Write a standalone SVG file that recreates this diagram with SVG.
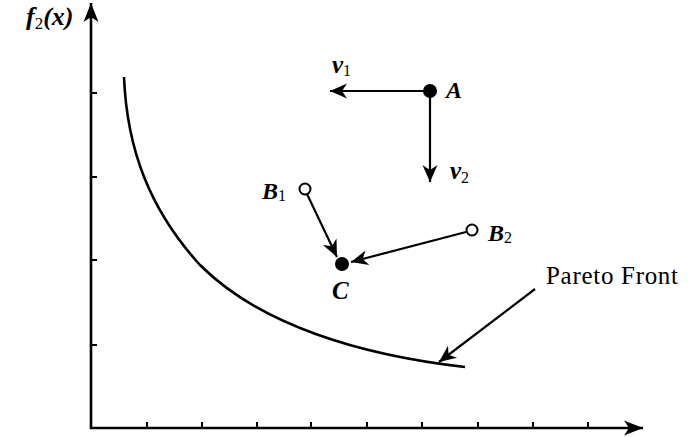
<svg xmlns="http://www.w3.org/2000/svg" width="697" height="437" viewBox="0 0 697 437">
<style>
.ax{stroke:#000;stroke-width:2.6;fill:none}
.tk{stroke:#000;stroke-width:2;fill:none}
.ln{stroke:#000;stroke-width:2.2;fill:none}
.cv{stroke:#000;stroke-width:2.6;fill:none}
.lb{font-family:"Liberation Serif","Times New Roman",serif;font-weight:bold;font-style:italic;fill:#000}
.sb{font-family:"Liberation Serif","Times New Roman",serif;font-style:normal;font-weight:normal;fill:#000}
.pf{font-family:"Liberation Serif","Times New Roman",serif;font-size:25px;fill:#000}
</style>
<defs>
<marker id="bigArrow" markerUnits="userSpaceOnUse" viewBox="-20 -9 22 18" refX="0" refY="0" markerWidth="22" markerHeight="18" orient="auto">
<path d="M0,0 L-19,-7.5 L-14,0 L-19,7.5 Z" fill="#000"/>
</marker>
<marker id="arr" markerUnits="userSpaceOnUse" viewBox="-18 -9 20 18" refX="0" refY="0" markerWidth="20" markerHeight="18" orient="auto">
<path d="M0,0 L-17,-7.5 L-12,0 L-17,7.5 Z" fill="#000"/>
</marker>
</defs>
<g id="axes">
<line class="ax" x1="91" y1="429" x2="91" y2="3" marker-end="url(#bigArrow)"/>
<line class="ax" x1="90" y1="428" x2="643" y2="428" marker-end="url(#bigArrow)"/>
<g class="tk">
<line x1="91" y1="93" x2="97" y2="93"/>
<line x1="91" y1="177" x2="97" y2="177"/>
<line x1="91" y1="260" x2="97" y2="260"/>
<line x1="91" y1="345" x2="97" y2="345"/>
<line x1="147" y1="428" x2="147" y2="422"/>
<line x1="202" y1="428" x2="202" y2="422"/>
<line x1="257" y1="428" x2="257" y2="422"/>
<line x1="311" y1="428" x2="311" y2="422"/>
<line x1="367" y1="428" x2="367" y2="422"/>
<line x1="422" y1="428" x2="422" y2="422"/>
<line x1="478" y1="428" x2="478" y2="422"/>
<line x1="533" y1="428" x2="533" y2="422"/>
<line x1="588" y1="428" x2="588" y2="422"/>
</g>
<text class="lb" x="26" y="25" font-size="26">f<tspan class="sb" font-size="17" dy="4">2</tspan><tspan dy="-4">(x)</tspan></text>
</g>
<g id="pareto-front">
<path class="cv" d="M124,77 C127,150 150,210 200,265 C260,325 360,355 465,367"/>
<text class="pf" x="546" y="284" textLength="132">Pareto Front</text>
</g>
<g id="node-A">
<circle cx="430" cy="91" r="7" fill="#000"/>
<text class="lb" x="446" y="98" font-size="24">A</text>
</g>
<g id="label-v1">
<text class="lb" x="332" y="73" font-size="25">v<tspan class="sb" font-size="16" dy="3">1</tspan></text>
</g>
<g id="label-v2">
<text class="lb" x="450" y="179" font-size="25">v<tspan class="sb" font-size="16" dy="4">2</tspan></text>
</g>
<g id="node-B1">
<circle cx="305" cy="189" r="5.5" fill="#fff" stroke="#000" stroke-width="2"/>
<text class="lb" x="262" y="199" font-size="24">B<tspan class="sb" font-size="16" dy="2">1</tspan></text>
</g>
<g id="node-B2">
<circle cx="472" cy="230" r="5.5" fill="#fff" stroke="#000" stroke-width="2"/>
<text class="lb" x="488" y="241" font-size="24">B<tspan class="sb" font-size="16" dy="2">2</tspan></text>
</g>
<g id="node-C">
<circle cx="342" cy="264" r="7" fill="#000"/>
<text class="lb" x="332" y="299" font-size="25">C</text>
</g>
<g id="connectors">
<line class="ln" x1="430" y1="91" x2="330" y2="91" marker-end="url(#arr)"/>
<line class="ln" x1="430" y1="91" x2="430" y2="182" marker-end="url(#arr)"/>
<line class="ln" x1="307" y1="194" x2="337" y2="257" marker-end="url(#arr)"/>
<line class="ln" x1="466" y1="232" x2="351" y2="262" marker-end="url(#arr)"/>
<line class="ln" x1="535" y1="289" x2="439" y2="362" marker-end="url(#arr)"/>
</g>
</svg>
